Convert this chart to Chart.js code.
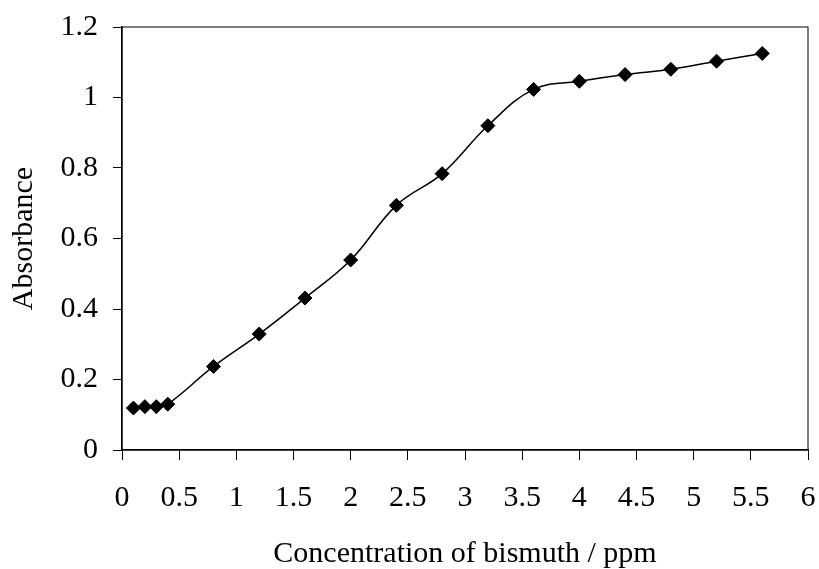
<!DOCTYPE html>
<html>
<head>
<meta charset="utf-8">
<script src="https://cdn.jsdelivr.net/npm/chart.js@4.4.1/dist/chart.umd.min.js"></script>
<style>
  html, body { margin: 0; padding: 0; background: #fff; }
  #wrap { width: 819px; height: 569px; }
</style>
</head>
<body>
<div id="wrap"><canvas id="absChart" width="819" height="569"></canvas></div>
<script>
// concentration (ppm) and absorbance
const concentration = [0.1, 0.2, 0.3, 0.4, 0.8, 1.2, 1.6, 2.0, 2.4, 2.8, 3.2, 3.6, 4.0, 4.4, 4.8, 5.2, 5.6];
const absorbance = [0.119, 0.123, 0.123, 0.13, 0.237, 0.329, 0.431, 0.539, 0.694, 0.784, 0.92, 1.023, 1.046, 1.065, 1.08, 1.103, 1.125];

// axis ticks
const xTickValues = [0, 0.5, 1, 1.5, 2, 2.5, 3, 3.5, 4, 4.5, 5, 5.5, 6];
const yTickValues = [0, 0.2, 0.4, 0.6, 0.8, 1, 1.2];

const xTitle = 'Concentration of bismuth / ppm';
const yTitle = 'Absorbance';

const serif = "'Liberation Serif', 'Times New Roman', serif";

// box round the plot area (top and right edges)
const plotFrame = {
    id: 'plotFrame',
    afterDraw(chart) {
        const { ctx, chartArea } = chart;
        ctx.save();
        ctx.strokeStyle = '#000';
        ctx.lineWidth = 1;
        ctx.strokeRect(chartArea.left, chartArea.top, chartArea.right - chartArea.left, chartArea.bottom - chartArea.top);
        ctx.restore();
    }
};

const ctx = document.getElementById('absChart').getContext('2d');
const chart = new Chart(ctx, {
    type: 'line',
    data: {
        datasets: [{
            data: concentration.map((c, i) => ({ x: c, y: absorbance[i] })),
            borderColor: '#000',
            borderWidth: 1.5,
            backgroundColor: '#000',
            pointStyle: 'rectRot',
            pointRadius: 7,
            pointBorderWidth: 1,
            pointBackgroundColor: '#000',
            pointBorderColor: '#000',
            tension: 0.4,
            fill: false
        }]
    },
    options: {
        responsive: false,
        animation: false,
        layout: { padding: { top: 27, right: 11, left: 0, bottom: 0 } },
        plugins: {
            legend: { display: false },
            tooltip: { enabled: false }
        },
        scales: {
            x: {
                type: 'linear',
                min: 0,
                max: 6,
                afterBuildTicks: (scale) => { scale.ticks = xTickValues.map(v => ({ value: v })); },
                afterFit: (scale) => {
                    scale.height = 119;
                    scale.paddingLeft = 0;
                    scale.paddingRight = 0;
                },
                grid: { drawOnChartArea: false, drawTicks: true, tickLength: 10, color: '#000', lineWidth: 1 },
                border: { display: true, color: '#000', width: 1.5 },
                ticks: {
                    autoSkip: false,
                    maxRotation: 0,
                    padding: 20,
                    color: '#000',
                    font: { family: serif, size: 30 },
                    callback: (v) => String(v)
                },
                title: {
                    display: true,
                    text: xTitle,
                    color: '#000',
                    padding: { top: 0, bottom: 0 },
                    font: { family: serif, size: 30, lineHeight: 1 }
                }
            },
            y: {
                type: 'linear',
                min: 0,
                max: 1.2,
                afterBuildTicks: (scale) => { scale.ticks = yTickValues.map(v => ({ value: v })); },
                afterFit: (scale) => {
                    scale.width = 122;
                    scale.paddingTop = 0;
                    scale.paddingBottom = 0;
                },
                grid: { drawOnChartArea: false, drawTicks: true, tickLength: 9, color: '#000', lineWidth: 1 },
                border: { display: true, color: '#000', width: 1.5 },
                ticks: {
                    padding: 15,
                    color: '#000',
                    font: { family: serif, size: 30 },
                    callback: (v) => String(v)
                },
                title: {
                    display: true,
                    text: yTitle,
                    color: '#000',
                    padding: { top: 9, bottom: 0 },
                    font: { family: serif, size: 30, lineHeight: 1 }
                }
            }
        }
    },
    plugins: [plotFrame]
});
</script>
</body>
</html>
